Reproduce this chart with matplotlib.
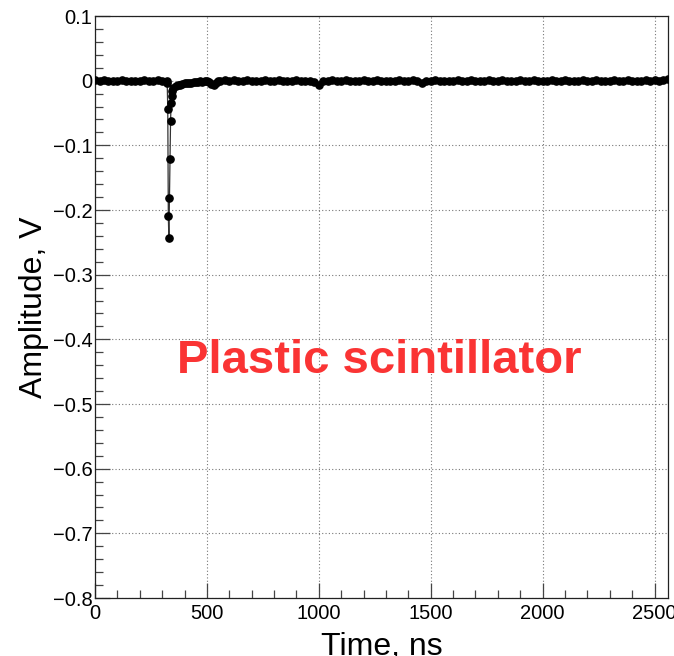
import numpy as np
import matplotlib
matplotlib.use('Agg')
import matplotlib.pyplot as plt
from matplotlib.ticker import MultipleLocator, FixedLocator, FixedFormatter

plt.rcParams['font.family'] = ['Liberation Sans', 'DejaVu Sans']

# waveform samples, time in ns and amplitude in V
t_pre = np.arange(0, 321, 20)
a_pre = [0.001, 0.000, 0.001, 0.000, -0.001, 0.000, 0.001, 0.000, 0.000,
         -0.001, 0.000, 0.001, 0.000, 0.000, 0.001, 0.000, -0.001]

t_pulse = np.arange(322.5, 346, 2.5)
a_pulse = [-0.004, -0.044, -0.210, -0.244, -0.182, -0.121, -0.062, -0.035,
           -0.023, -0.016]

t_tail = np.arange(350, 561, 10)
a_tail = [-0.012, -0.009, -0.007, -0.006, -0.005, -0.004, -0.004, -0.003,
          -0.003, -0.002, -0.002, -0.002, -0.001, -0.002, -0.001, -0.001,
          -0.002, -0.005, -0.006, -0.003, -0.001, 0.000]

t_rest = np.arange(580, 2561, 20)
a_rest = [0.001, 0.000, 0.001, 0.000, 0.000, 0.001, 0.000, -0.001, 0.000, 0.001,
          0.000, 0.000, 0.001, 0.000, -0.001, 0.000, 0.001, 0.000, 0.000, 0.000,
          -0.002, -0.006, -0.001, 0.000, 0.001, 0.000, 0.000, 0.001, 0.000, -0.001,
          0.000, 0.001, 0.000, 0.000, 0.001, 0.000, -0.001, 0.000, 0.000, 0.001,
          0.000, 0.000, 0.001, -0.001, -0.003, 0.000, 0.000, 0.001, 0.000, 0.000,
          -0.001, 0.000, 0.001, 0.000, 0.000, 0.001, 0.000, -0.001, 0.000, 0.001,
          0.000, 0.000, 0.001, 0.000, -0.001, 0.000, 0.001, 0.000, 0.000, 0.001,
          0.000, -0.001, 0.000, 0.001, 0.000, 0.000, 0.001, 0.000, -0.001, 0.000,
          0.001, 0.000, 0.000, 0.001, 0.000, -0.001, 0.000, 0.001, 0.000, 0.000,
          0.001, 0.000, -0.001, 0.000, 0.001, 0.000, 0.001, 0.000, 0.001, 0.002]

x_ticks = [0, 500, 1000, 1500, 2000, 2500]
x_labels = ['0', '500', '1000', '1500', '2000', '2500']
y_ticks = [0.1, 0.0, -0.1, -0.2, -0.3, -0.4, -0.5, -0.6, -0.7, -0.8]
y_labels = ['0.1', '0', '\u22120.1', '\u22120.2', '\u22120.3', '\u22120.4',
            '\u22120.5', '\u22120.6', '\u22120.7', '\u22120.8']

tt = np.concatenate([t_pre, t_pulse, t_tail, t_rest])
amp = np.concatenate([a_pre, a_pulse, a_tail, a_rest])

fig = plt.figure(figsize=(6.74, 6.56), dpi=100)
ax = fig.add_axes([0.141, 0.0884, 0.850, 0.8872])

ax.plot(tt, amp, color='#333333', lw=0.9, marker='o', ms=5.2,
        mfc='black', mec='black', zorder=3)

ax.set_xlim(0, 2560)
ax.set_ylim(-0.8, 0.1)

ax.xaxis.set_major_locator(FixedLocator(x_ticks))
ax.xaxis.set_major_formatter(FixedFormatter(x_labels))
ax.xaxis.set_minor_locator(MultipleLocator(100))
ax.yaxis.set_major_locator(FixedLocator(y_ticks))
ax.yaxis.set_major_formatter(FixedFormatter(y_labels))
ax.yaxis.set_minor_locator(MultipleLocator(0.02))

ax.tick_params(which='both', direction='in', color='#444444', width=0.9,
               labelsize=14.5, top=False, right=False)
ax.tick_params(which='major', length=11)
ax.tick_params(which='minor', length=6)
ax.tick_params(axis='x', pad=4)
ax.tick_params(axis='y', pad=2)

ax.grid(True, which='major', color='#777777', lw=0.8, ls=(0, (1, 2)))

for sp in ax.spines.values():
    sp.set_color('#222222')
    sp.set_linewidth(0.9)

ax.set_xlabel('Time, ns', fontsize=23, va='baseline')
ax.xaxis.set_label_coords(0.5, -0.098)
ax.set_ylabel('Amplitude, V', fontsize=23)
ax.yaxis.set_label_coords(-0.080, 0.5)

ax.text(366, -0.452, 'Plastic scintillator', color='#fa3434', fontsize=34,
        fontweight='bold', ha='left', va='baseline')

fig.savefig('out.png', dpi=100)
